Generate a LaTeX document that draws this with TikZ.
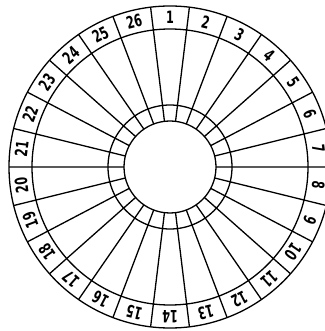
\documentclass[tikz,border=0pt]{standalone}
\usepackage{fontspec}
\setmainfont{DejaVu Sans}
\usetikzlibrary{calc}
\begin{document}
\begin{tikzpicture}[x=1pt,y=1pt,line width=1.3pt,
  ring/.style={draw=black},
  spoke/.style={draw=black},
  lbl/.style={inner sep=0pt,font=\fontsize{17}{17}\selectfont\bfseries}]
\useasboundingbox (-170,-164) rectangle (154,167);
\coordinate (c) at (0,0);
\foreach \i in {0,...,25}
  \draw[spoke] ($(c)+({96.923-\i*13.846}:46)$) -- ($(c)+({96.923-\i*13.846}:161)$);
\draw[ring] (c) circle[radius=161];
\draw[ring] (c) circle[radius=138];
\draw[ring] (c) circle[radius=62];
\draw[ring] (c) circle[radius=46];
\foreach \i in {1,...,26}
  \node[lbl,rotate={-(\i-1)*13.846}] (l\i) at ($(c)+({90-(\i-1)*13.846}:149.5)$) {\scalebox{0.66}[1]{\i}};
\end{tikzpicture}
\end{document}
